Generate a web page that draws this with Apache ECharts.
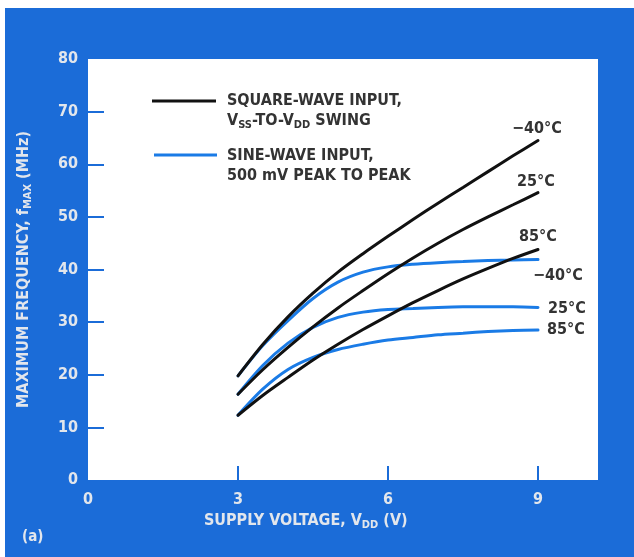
<!DOCTYPE html>
<html>
<head>
<meta charset="utf-8">
<script src="https://cdn.jsdelivr.net/npm/echarts@6/dist/echarts.min.js"></script>
<style>
  html, body { margin: 0; padding: 0; background: #fff; }
  #chart { width: 634px; height: 557px; }
</style>
</head>
<body>
<div id="chart"></div>
<script>
// supply voltage (V)
const voltage = [3, 3.5, 4, 4.5, 5, 5.5, 6, 6.5, 7, 7.5, 8, 8.5, 9];
// square-wave input, Vss-to-Vdd swing (MHz)
const squareM40 = [19.8, 25.8, 31, 35.5, 39.5, 43, 46.3, 49.5, 52.6, 55.6, 58.6, 61.6, 64.5];
const square25 = [16.3, 21, 25.2, 29.1, 32.7, 36.0, 39.2, 42.2, 45.0, 47.6, 50.0, 52.3, 54.6];
const square85 = [12.3, 16.1, 19.5, 22.8, 25.8, 28.6, 31.2, 33.7, 36, 38.2, 40.2, 42.1, 43.8];
// sine-wave input, 500 mV p-p (MHz)
const sineM40 = [19.8, 25.6, 30.3, 34.5, 37.6, 39.5, 40.5, 41, 41.3, 41.5, 41.7, 41.8, 41.9];
const sine25 = [16.3, 21.8, 26, 29, 30.9, 31.9, 32.4, 32.6, 32.8, 32.9, 32.9, 32.9, 32.8];
const sine85 = [12.3, 17.3, 21.0, 23.3, 24.8, 25.8, 26.6, 27.1, 27.6, 27.9, 28.2, 28.4, 28.5];
const tempLabels = ['−40°C', '25°C', '85°C'];
const xTicks = [0, 3, 6, 9];
const yTicks = [0, 10, 20, 30, 40, 50, 60, 70, 80];

const BG = '#1b6cd8';
const PALE = '#e2e6ec';
const INK = '#333';
const SINE = '#1a7be6';
const FONT = "'Liberation Sans Narrow', 'DejaVu Sans Condensed', 'Roboto Condensed', sans-serif";

const pair = (ys) => voltage.map((v, i) => [v, ys[i]]);

function curve(name, ys, color, label, offset) {
  return {
    name: name,
    type: 'line',
    smooth: 0.3,
    showSymbol: false,
    silent: true,
    data: pair(ys),
    lineStyle: { color: color, width: 3, cap: 'round' },
    endLabel: {
      show: true,
      formatter: label,
      offset: offset,
      color: INK,
      fontFamily: FONT,
      fontWeight: 'bold',
      fontSize: 16
    }
  };
}

const sub = (color) => ({
  n: { color: color, fill: color, fontFamily: FONT, fontWeight: 'bold', fontSize: 16, lineHeight: 20 },
  s: { color: color, fill: color, fontFamily: FONT, fontWeight: 'bold', fontSize: 11, lineHeight: 20, verticalAlign: 'bottom', padding: [6, 0, 0, 0] }
});

const chart = echarts.init(document.getElementById('chart'));
chart.setOption({
  backgroundColor: '#fff',
  animation: false,
  grid: {
    left: 88, right: 36, top: 59, bottom: 77,
    show: true, backgroundColor: '#fff', borderWidth: 0
  },
  xAxis: {
    type: 'value', min: 0, max: 10.2,
    axisLine: { show: false },
    splitLine: { show: false },
    axisTick: {
      show: true, inside: true, length: 14, customValues: [3, 6, 9],
      lineStyle: { color: BG, width: 2 }
    },
    axisLabel: {
      customValues: xTicks, margin: 12,
      color: PALE, fontFamily: FONT, fontWeight: 'bold', fontSize: 16
    }
  },
  yAxis: {
    type: 'value', min: 0, max: 80,
    axisLine: { show: false },
    splitLine: { show: false },
    axisTick: {
      show: true, inside: true, length: 16, customValues: [10, 20, 30, 40, 50, 60, 70],
      lineStyle: { color: BG, width: 2 }
    },
    axisLabel: {
      customValues: yTicks, margin: 10,
      color: PALE, fontFamily: FONT, fontWeight: 'bold', fontSize: 16
    },
    name: '{n|MAXIMUM FREQUENCY, f}{s|MAX}{n| (MHz)}',
    nameLocation: 'middle',
    nameGap: 54,
    nameTextStyle: { rich: sub(PALE) }
  },
  graphic: [
    { type: 'rect', z: -10, shape: { x: 5, y: 8, width: 629, height: 549 }, style: { fill: BG } },
    // legend
    { type: 'line', shape: { x1: 152, y1: 101, x2: 216, y2: 101 }, style: { stroke: '#111', lineWidth: 3 } },
    { type: 'line', shape: { x1: 154, y1: 155, x2: 217, y2: 155 }, style: { stroke: SINE, lineWidth: 3 } },
    {
      type: 'text', left: 227, top: 93,
      style: {
        text: '{n|SQUARE-WAVE INPUT,}\n{n|V}{s|SS}{n|-TO-V}{s|DD}{n| SWING}',
        rich: sub(INK)
      }
    },
    {
      type: 'text', left: 227, top: 146,
      style: {
        text: 'SINE-WAVE INPUT,\n500 mV PEAK TO PEAK',
        fill: INK, font: 'bold 16px ' + FONT, lineHeight: 20
      }
    },
    {
      type: 'text', left: 204, top: 513,
      style: { text: '{n|SUPPLY VOLTAGE, V}{s|DD}{n| (V)}', rich: sub(PALE) }
    },
    {
      type: 'text', left: 22, top: 530,
      style: { text: '(a)', fill: PALE, font: 'bold 15px ' + FONT }
    }
  ],
  series: [
    curve('sine -40', sineM40, SINE, tempLabels[0], [-13, 16]),
    curve('sine 25', sine25, SINE, tempLabels[1], [2, 1]),
    curve('sine 85', sine85, SINE, tempLabels[2], [1, 0]),
    curve('square -40', squareM40, '#111', tempLabels[0], [-34, -12]),
    curve('square 25', square25, '#111', tempLabels[1], [-29, -11]),
    curve('square 85', square85, '#111', tempLabels[2], [-27, -13])
  ]
});
</script>
</body>
</html>
